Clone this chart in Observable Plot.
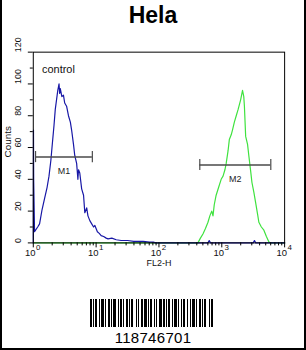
<!DOCTYPE html>
<html>
<head>
<meta charset="utf-8">
<script src="https://cdn.jsdelivr.net/npm/d3@7"></script>
<script src="https://cdn.jsdelivr.net/npm/@observablehq/plot@0.6"></script>
<style>
  html, body { margin: 0; padding: 0; background: #fff; }
  #wrap { position: relative; width: 306px; height: 350px; box-sizing: border-box;
          border-left: 2px solid #000; border-right: 2px solid #000; border-bottom: 2px solid #000;
          font-family: "Liberation Sans", Arial, sans-serif; overflow: hidden; }
  #title { position: absolute; left: 0; right: 0; top: 2px; text-align: center;
           font-weight: bold; font-size: 23px; color: #000; }
  #chart { position: absolute; left: -2px; top: 0; }
  #barcode { position: absolute; left: 88px; top: 299px; }
  #code { position: absolute; left: 0; right: 0; top: 329px; text-align: center; font-size: 15px; letter-spacing: 0.3px; }
</style>
</head>
<body>
<div id="wrap">
  <div id="chart"></div>
  <div id="title">Hela</div>
  <svg id="barcode" width="124" height="28"></svg>
  <div id="code">118746701</div>
</div>
<script>
// ---- data (log10 of FL2-H, counts) ----
const blueLog   = [0, 0.003, 0.006, 0.02, 0.036, 0.07, 0.1, 0.14, 0.18, 0.22, 0.25, 0.28, 0.30, 0.33, 0.35, 0.37, 0.39, 0.40, 0.41, 0.42, 0.43, 0.455, 0.48, 0.50, 0.53, 0.56, 0.59, 0.61, 0.64, 0.66, 0.69, 0.71, 0.72, 0.74, 0.77, 0.80, 0.82, 0.85, 0.87, 0.90, 0.93, 0.96, 0.98, 1.02, 1.05, 1.08, 1.12, 1.16, 1.19, 1.25, 1.32, 1.40, 1.50, 1.60, 1.66, 1.75, 1.85, 1.91, 1.95, 2.78, 2.80, 2.82, 3.50, 3.52, 3.54, 4.0];
const blueCount = [0, 71, 40, 7, 8, 10, 12, 21, 28, 35, 42, 52, 61, 74, 84, 90, 96, 98, 100, 94, 97, 92, 93, 88, 86, 80, 76, 71, 62, 55, 50, 40, 46, 44, 34, 30, 19, 22, 17, 14, 12, 10, 11, 7, 6, 4.6, 4, 3, 2.5, 3, 2, 1.5, 1.5, 1, 1, 1, 0.5, 0.5, 0, 0, 1.5, 0, 0, 1.5, 0, 0];
const greenLog   = [0, 2.55, 2.62, 2.66, 2.70, 2.74, 2.78, 2.81, 2.84, 2.86, 2.88, 2.91, 2.95, 2.99, 3.02, 3.05, 3.07, 3.10, 3.12, 3.15, 3.17, 3.20, 3.23, 3.26, 3.28, 3.30, 3.33, 3.35, 3.36, 3.38, 3.41, 3.43, 3.46, 3.48, 3.51, 3.54, 3.57, 3.59, 3.63, 3.67, 3.71, 3.75, 3.78, 4.0];
const greenCount = [0, 0, 0, 3, 5.6, 9, 13, 17, 20, 17, 24, 30, 35, 40, 42, 46, 50, 58, 65, 68, 71, 76, 80, 84, 87, 90, 96, 92, 86, 67, 62, 55, 45, 38, 32, 25, 18, 13, 10, 8, 4, 0.5, 0, 0];

// markers: name, start log, end log, count level
const markerNames = ["M1", "M2"];
const markerStart = [0.036, 2.65];
const markerEnd   = [0.94, 3.78];
const markerLevel = [54, 49];

const yTicks = [0, 20, 40, 60, 80, 100, 120];
const yMinor = [10, 30, 50, 70, 90, 110];
const xExponents = [0, 1, 2, 3, 4];
const xLabel = "FL2-H";
const yLabel = "Counts";
const legendText = "control";

// barcode bar/space widths (alternating bar, space), read approximately
const barcodeWidths = [2,1,1,1,2,2,1,1,3,1,1,2,2,1,1,1,3,2,1,1,2,1,1,2,2,1,1,1,2,3,1,1,1,2,2,1,3,1,1,1,2,2,1,1,1,2,3,1,2,1,1,1,2,2,1,1,3,1,1,2,1,1,2,2,1,2,1,1,3,1,1,2,2,1,1,1,2,3,1,1,2];

// ---- build ----
const blue = blueLog.map((l, i) => ({x: 10 ** l, y: blueCount[i]}));
const green = greenLog.map((l, i) => ({x: 10 ** l, y: greenCount[i]}));
const markers = markerNames.map((n, i) => ({
  name: n, x1: 10 ** markerStart[i], x2: 10 ** markerEnd[i], y: markerLevel[i],
  xm: 10 ** ((markerStart[i] + markerEnd[i]) / 2)
}));
const majorX = xExponents.map(e => 10 ** e);
const minorX = [];
for (let e = 0; e < 4; e++) for (let m = 2; m <= 9; m++) minorX.push(m * 10 ** e);

const font = "Liberation Sans, Arial, sans-serif";
const chart = Plot.plot({
  width: 306, height: 350,
  marginTop: 52, marginBottom: 106, marginLeft: 33, marginRight: 20,
  style: {fontFamily: font, background: "transparent", overflow: "visible"},
  x: {type: "log", domain: [1, 10000]},
  y: {domain: [0, 120]},
  marks: [
    Plot.line(green, {x: "x", y: "y", stroke: "#3ee23e", strokeWidth: 1.2}),
    Plot.line(blue, {x: "x", y: "y", stroke: "#1717a6", strokeWidth: 1.2}),
    Plot.ruleY(markers, {x1: "x1", x2: "x2", y: "y", stroke: "#4a4a4a", strokeWidth: 1.5}),
    Plot.ruleX(markers, {x: "x1", y1: d => d.y - 3.5, y2: d => d.y + 3.5, stroke: "#4a4a4a", strokeWidth: 1.2}),
    Plot.ruleX(markers, {x: "x2", y1: d => d.y - 3.5, y2: d => d.y + 3.5, stroke: "#4a4a4a", strokeWidth: 1.2}),
    Plot.text(markers, {x: "xm", y: "y", text: "name", dy: 14, fontSize: 9, fill: "#222"}),
    Plot.text([legendText], {x: 10 ** 0.14, y: 109, text: d => d, textAnchor: "start", fontSize: 11, fill: "#111"}),
    Plot.frame({stroke: "#000", strokeWidth: 1}),
    Plot.axisY({ticks: yTicks, tickSize: 5, tickFormat: () => "", label: null}),
    Plot.axisY({ticks: yMinor, tickSize: 3, tickFormat: () => "", label: null}),
    Plot.text(yTicks, {y: d => d, text: d => String(d), frameAnchor: "left", dx: -15, rotate: -90, fontSize: 9, fill: "#111"}),
    Plot.text([yLabel], {frameAnchor: "left", dx: -26, dy: 10, rotate: -90, text: d => d, fontSize: 10, fill: "#111"}),
    Plot.axisX({ticks: majorX, tickSize: 5, tickFormat: () => "", label: null}),
    Plot.axisX({ticks: minorX, tickSize: 3, tickFormat: () => "", label: null}),
    Plot.text(majorX, {x: d => d, y: 0, text: () => "10", dx: -3, dy: 10, fontSize: 9.5, fill: "#111"}),
    Plot.text(xExponents, {x: e => 10 ** e, y: 0, text: e => String(e), dx: 5, dy: 5, fontSize: 8, fill: "#111"}),
    Plot.text([xLabel], {frameAnchor: "bottom", dy: 23, text: d => d, fontSize: 9, fill: "#111"})
  ]
});
document.getElementById("chart").appendChild(chart);

// barcode
const svg = d3.select("#barcode");
let xpos = 0;
barcodeWidths.forEach((w, i) => {
  if (i % 2 === 0) svg.append("rect").attr("x", xpos).attr("y", 0).attr("width", w).attr("height", 28).attr("fill", "#000");
  xpos += w;
});
</script>
</body>
</html>
